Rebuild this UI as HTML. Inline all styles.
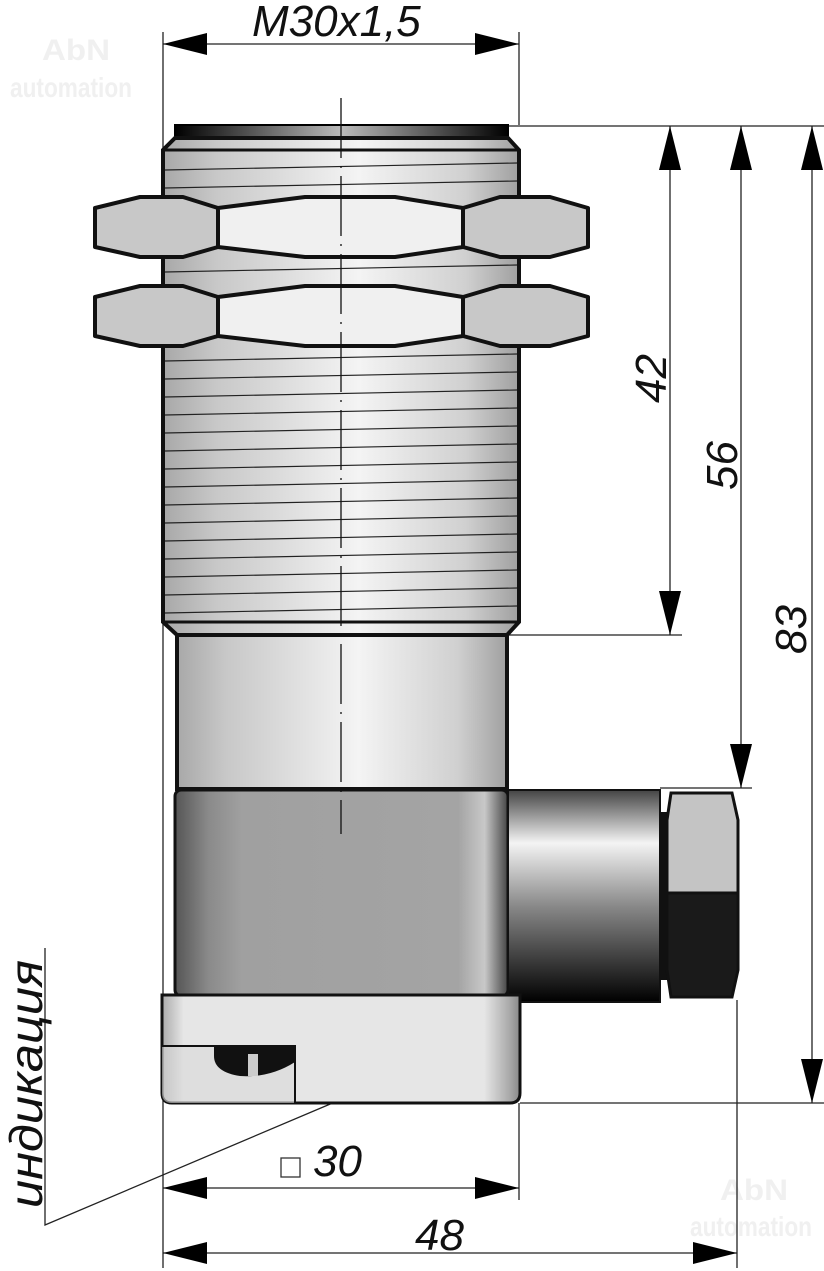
<!DOCTYPE html>
<html><head><meta charset="utf-8"><style>
html,body{margin:0;padding:0;background:#fff;}
svg{display:block;}
</style></head><body>
<svg width="824" height="1271" viewBox="0 0 824 1271" xmlns="http://www.w3.org/2000/svg">
<defs>
<linearGradient id="body" x1="0" x2="1" y1="0" y2="0">
<stop offset="0" stop-color="#a8a8a8"/><stop offset="0.15" stop-color="#c8c8c8"/><stop offset="0.55" stop-color="#f4f4f4"/><stop offset="0.85" stop-color="#d0d0d0"/><stop offset="1" stop-color="#a0a0a0"/>
</linearGradient>
<linearGradient id="cap" x1="0" x2="1"><stop offset="0" stop-color="#000"/><stop offset="0.5" stop-color="#bbb"/><stop offset="1" stop-color="#000"/></linearGradient>
<linearGradient id="dark" x1="0" x2="1"><stop offset="0" stop-color="#555"/><stop offset="0.1" stop-color="#8a8a8a"/><stop offset="0.2" stop-color="#a0a0a0"/><stop offset="0.85" stop-color="#a4a4a4"/><stop offset="0.93" stop-color="#c8c8c8"/><stop offset="1" stop-color="#444"/></linearGradient>
<linearGradient id="base" x1="0" x2="1"><stop offset="0" stop-color="#aaa"/><stop offset="0.06" stop-color="#e6e6e6"/><stop offset="0.9" stop-color="#e6e6e6"/><stop offset="0.97" stop-color="#aaa"/><stop offset="1" stop-color="#888"/></linearGradient>
<linearGradient id="gland" x1="0" x2="0" y1="0" y2="1"><stop offset="0" stop-color="#444"/><stop offset="0.25" stop-color="#f4f4f4"/><stop offset="0.55" stop-color="#888"/><stop offset="1" stop-color="#000"/></linearGradient>
</defs>
<!-- watermarks -->
<g fill="#f0f0f0" font-family="Liberation Sans,sans-serif" font-weight="bold">
<text x="42" y="60" font-size="30" textLength="68" lengthAdjust="spacingAndGlyphs">AbN</text><text x="10" y="97" font-size="28" textLength="122" lengthAdjust="spacingAndGlyphs">automation</text>
<text x="720" y="1200" font-size="30" textLength="68" lengthAdjust="spacingAndGlyphs">AbN</text><text x="690" y="1236" font-size="28" textLength="122" lengthAdjust="spacingAndGlyphs">automation</text>
</g>
<!-- dimension lines (behind) -->
<g stroke="#222" stroke-width="1.3" fill="none">
<line x1="163" y1="32" x2="163" y2="1268"/><line x1="519" y1="32" x2="519" y2="125"/><line x1="519" y1="1103" x2="519" y2="1200"/>
<line x1="737" y1="1000" x2="737" y2="1268"/>
<line x1="163" y1="44" x2="519" y2="44"/>
<line x1="508" y1="126" x2="824" y2="126"/><line x1="507" y1="635" x2="682" y2="635"/><line x1="660" y1="788" x2="752" y2="788"/><line x1="520" y1="1103" x2="824" y2="1103"/>
<line x1="670" y1="126" x2="670" y2="635"/><line x1="741" y1="126" x2="741" y2="788"/><line x1="812" y1="126" x2="812" y2="1103"/>
<line x1="163" y1="1188" x2="519" y2="1188"/><line x1="163" y1="1253" x2="737" y2="1253"/>
<polyline points="45,948 45,1225 335,1102"/>
</g>
<!-- cap -->
<rect x="175" y="125" width="333" height="13" fill="url(#cap)" stroke="#000" stroke-width="2"/>
<!-- threaded body -->
<path d="M175,138 L508,138 L519,150 L519,622 L507,635 L177,635 L163,622 L163,150 Z" fill="url(#body)" stroke="#111" stroke-width="4"/>
<line x1="163" y1="150" x2="519" y2="150" stroke="#111" stroke-width="3"/>
<line x1="163" y1="622" x2="519" y2="622" stroke="#111" stroke-width="3"/>
<g stroke="#222" stroke-width="1.2">
<line x1="165" y1="170" x2="517" y2="163"/><line x1="165" y1="188" x2="517" y2="181"/>
<line x1="165" y1="272" x2="517" y2="265"/>
<line x1="165" y1="361" x2="517" y2="354"/><line x1="165" y1="379" x2="517" y2="372"/><line x1="165" y1="397" x2="517" y2="390"/><line x1="165" y1="415" x2="517" y2="408"/><line x1="165" y1="433" x2="517" y2="426"/><line x1="165" y1="451" x2="517" y2="444"/><line x1="165" y1="469" x2="517" y2="462"/><line x1="165" y1="487" x2="517" y2="480"/><line x1="165" y1="505" x2="517" y2="498"/><line x1="165" y1="523" x2="517" y2="516"/><line x1="165" y1="541" x2="517" y2="534"/><line x1="165" y1="559" x2="517" y2="552"/><line x1="165" y1="577" x2="517" y2="570"/><line x1="165" y1="595" x2="517" y2="588"/><line x1="165" y1="613" x2="517" y2="606"/>
</g>
<!-- nuts -->
<g id="nut" stroke="#111" stroke-width="4" stroke-linejoin="round">
<path d="M218,208 L163,198 L163,257 L218,247 Z M463,208 L519,198 L519,257 L463,247 Z" fill="#777" stroke="none"/>
<polygon points="95,208 140,197 183,197 218,208 218,247 183,257 140,257 95,247" fill="#c8c8c8"/>
<polygon points="218,208 305,197 395,197 463,208 463,247 395,257 305,257 218,247" fill="#f0f0f0"/>
<polygon points="463,208 500,197 550,197 588,208 588,247 550,257 500,257 463,247" fill="#c8c8c8"/>
</g>
<use href="#nut" transform="translate(0,89)"/>
<!-- lower cylinder -->
<rect x="177" y="635" width="330" height="154" fill="url(#body)" stroke="#111" stroke-width="4"/>
<!-- dark block -->
<rect x="175" y="790" width="333" height="206" rx="6" fill="url(#dark)" stroke="#111" stroke-width="3"/>
<!-- gland -->
<rect x="508" y="790" width="152" height="212" fill="url(#gland)" stroke="#111" stroke-width="2"/>
<rect x="660" y="812" width="8" height="168" fill="#111"/>
<path d="M671,793 L732,793 L738,820 L738,893 L667,893 L667,820 Z" fill="#c4c4c4" stroke="#111" stroke-width="3"/>
<path d="M667,893 L738,893 L738,970 L732,997 L671,997 L667,970 Z" fill="#1a1a1a" stroke="#111" stroke-width="3"/>
<!-- base -->
<path d="M162,995 L520,995 L520,1093 Q520,1103 510,1103 L172,1103 Q162,1103 162,1093 Z" fill="url(#base)" stroke="#111" stroke-width="3"/>
<path d="M162,1046 L295,1046 L295,1103 L172,1103 Q162,1103 162,1093 Z" fill="#d8d8d8" opacity="0.6"/>
<path d="M162,1046 L295,1046 L295,1103" fill="none" stroke="#111" stroke-width="2"/>
<path d="M214,1046 L295,1046 L295,1062 Q270,1078 240,1076 Q214,1072 214,1056 Z" fill="#111"/>
<rect x="248" y="1054" width="10" height="22" fill="#ccc"/>
<!-- centerline -->
<line x1="341" y1="98" x2="341" y2="834" stroke="#111" stroke-width="1.3" stroke-dasharray="60,8,2,8"/>
<g fill="#000">
<polygon points="163,44 207,33 207,55"/><polygon points="519,44 475,33 475,55"/>
<polygon points="670,126 659,170 681,170"/><polygon points="670,635 659,591 681,591"/>
<polygon points="741,126 730,170 752,170"/><polygon points="741,788 730,744 752,744"/>
<polygon points="812,126 801,170 823,170"/><polygon points="812,1103 801,1059 823,1059"/>
<polygon points="163,1188 207,1177 207,1199"/><polygon points="519,1188 475,1177 475,1199"/>
<polygon points="163,1253 207,1242 207,1264"/><polygon points="737,1253 693,1242 693,1264"/>
</g>
<g font-family="Liberation Sans,sans-serif" font-style="italic" font-size="44" fill="#111">
<text x="252" y="36">M30x1,5</text>
<text x="313" y="1176">30</text>
<text x="415" y="1250">48</text>
<text transform="translate(666,403) rotate(-90)">42</text>
<text transform="translate(737,490) rotate(-90)">56</text>
<text transform="translate(806,654) rotate(-90)">83</text>
<text transform="translate(42,1208) rotate(-90)" font-size="46" textLength="248" lengthAdjust="spacingAndGlyphs">индикация</text>
</g>
<rect x="281" y="1158" width="19" height="19" fill="none" stroke="#333" stroke-width="1.3"/>
</svg>
</body></html>
